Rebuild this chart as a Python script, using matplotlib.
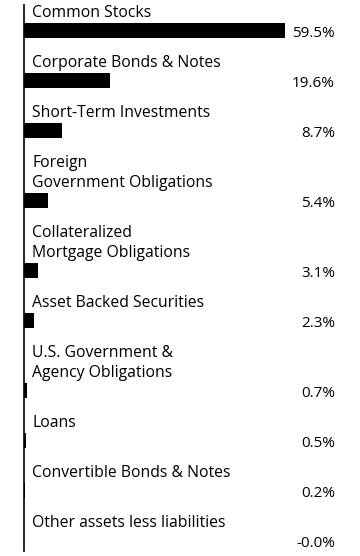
import matplotlib
matplotlib.use("Agg")
import matplotlib.pyplot as plt

categories = [
    "Common Stocks",
    "Corporate Bonds & Notes",
    "Short-Term Investments",
    "Foreign\nGovernment Obligations",
    "Collateralized\nMortgage Obligations",
    "Asset Backed Securities",
    "U.S. Government &\nAgency Obligations",
    "Loans",
    "Convertible Bonds & Notes",
    "Other assets less liabilities",
]
values = [59.5, 19.6, 8.7, 5.4, 3.1, 2.3, 0.7, 0.5, 0.2, -0.0]
value_labels = ["59.5%", "19.6%", "8.7%", "5.4%", "3.1%", "2.3%", "0.7%", "0.5%", "0.2%", "-0.0%"]

plt.rcParams["font.family"] = ["Open Sans", "DejaVu Sans"]

W, H = 360, 556
fig = plt.figure(figsize=(W / 100, H / 100), dpi=100)
x0 = 24
ax = fig.add_axes([x0 / W, 0, 1 - x0 / W, 1])

# row layout in pixel units: each label line takes 20px, bar below it
line_h = 20
starts = []
s = 0
for c in categories:
    starts.append(s)
    s += 30 + line_h * (c.count("\n") + 1)

px_per_pct = 261 / 59.5
ax.set_xlim(0, (W - x0) / px_per_pct)
ax.set_ylim(H, 0)

for c, v, lab, st in zip(categories, values, value_labels, starts):
    n = c.count("\n") + 1
    yc = st + 10 + line_h * n
    ax.barh(yc, max(v, 0), height=15, left=0, color="black")
    for i, line in enumerate(c.split("\n")):
        ax.text(8 / px_per_pct, st + 13 + i * line_h, line,
                va="center", ha="left", fontsize=11.3, color="black")
    ax.text((335 - x0) / px_per_pct, yc + 7, lab, va="baseline", ha="right",
            fontsize=11, color="black")

for sp in ["top", "right", "bottom"]:
    ax.spines[sp].set_visible(False)
ax.spines["left"].set_linewidth(1.2)
ax.spines["left"].set_bounds(5, 551)
ax.set_xticks([])
ax.set_yticks([])
ax.patch.set_alpha(0)

fig.savefig("out.png", dpi=100, facecolor="white")
